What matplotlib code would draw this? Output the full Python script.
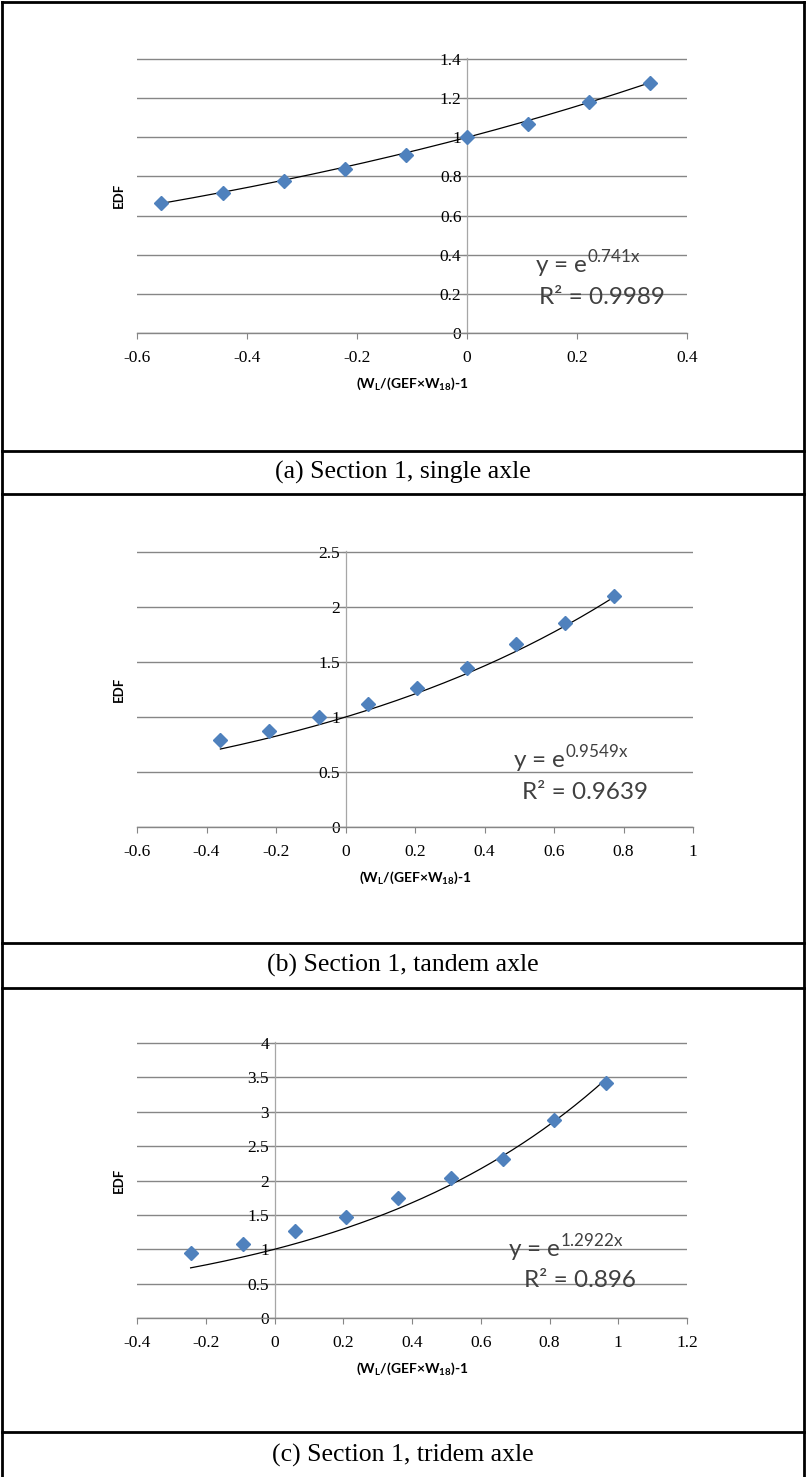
import matplotlib
matplotlib.use('Agg')
import matplotlib.pyplot as plt
import numpy as np
from matplotlib.lines import Line2D

plt.rcParams['mathtext.fontset'] = 'custom'
plt.rcParams['mathtext.rm'] = 'Lato'
plt.rcParams['mathtext.bf'] = 'Lato:bold'

#(a) single axle
x_single = [-0.556, -0.444, -0.333, -0.222, -0.111, 0.0, 0.111, 0.222, 0.333]
y_single = [0.665, 0.718, 0.777, 0.838, 0.908, 1.0, 1.066, 1.18, 1.278]
k_single, r2_single = 0.741, '0.9989'
xt_single = [-0.6, -0.4, -0.2, 0, 0.2, 0.4]
yt_single = [0, 0.2, 0.4, 0.6, 0.8, 1, 1.2, 1.4]

#(b) tandem axle
x_tandem = [-0.36, -0.219, -0.076, 0.065, 0.207, 0.351, 0.492, 0.633, 0.773]
y_tandem = [0.792, 0.877, 0.998, 1.118, 1.264, 1.442, 1.66, 1.859, 2.10]
k_tandem, r2_tandem = 0.9549, '0.9639'
xt_tandem = [-0.6, -0.4, -0.2, 0, 0.2, 0.4, 0.6, 0.8, 1]
yt_tandem = [0, 0.5, 1, 1.5, 2, 2.5]

#(c) tridem axle
x_tridem = [-0.244, -0.091, 0.06, 0.208, 0.36, 0.512, 0.664, 0.812, 0.965]
y_tridem = [0.949, 1.084, 1.267, 1.465, 1.749, 2.034, 2.318, 2.882, 3.417]
k_tridem, r2_tridem = 1.2922, '0.896'
xt_tridem = [-0.4, -0.2, 0, 0.2, 0.4, 0.6, 0.8, 1, 1.2]
yt_tridem = [0, 0.5, 1, 1.5, 2, 2.5, 3, 3.5, 4]

captions = ['(a) Section 1, single axle', '(b) Section 1, tandem axle',
            '(c) Section 1, tridem axle']

W, H = 806, 1477
fig = plt.figure(figsize=(W / 100, H / 100), dpi=100)

def px_axes(x0, x1, y_top, y_bot):
    return fig.add_axes([x0 / W, 1 - y_bot / H, (x1 - x0) / W, (y_bot - y_top) / H])

def draw_panel(ax, xs, ys, k, r2, xt, yt, eq_pos):
    ax.set_xlim(xt[0], xt[-1])
    ax.set_ylim(0, yt[-1] * 1.004)
    ax.set_xticks(xt)
    ax.set_xticklabels(['%g' % v for v in xt])
    ax.set_yticks(yt)
    ax.set_yticklabels(['%g' % v for v in yt])
    for s in ['top', 'right']:
        ax.spines[s].set_visible(False)
    ax.spines['left'].set_position(('data', 0))
    ax.spines['left'].set_color('#a6a6a6')
    ax.spines['left'].set_linewidth(0.9)
    ax.spines['bottom'].set_color('#868686')
    ax.spines['bottom'].set_linewidth(1.0)
    ax.yaxis.grid(True, color='#868686', lw=1.0)
    ax.set_axisbelow(True)
    ax.tick_params(axis='x', direction='out', length=4, color='#868686', pad=8)
    ax.tick_params(axis='y', length=3, color='#868686', pad=1)
    for lab in ax.get_xticklabels() + ax.get_yticklabels():
        lab.set_fontfamily('Liberation Serif')
        lab.set_fontsize(12.5)
    # trendline y = e^(kx)
    xf = np.linspace(min(xs), max(xs), 200)
    ax.plot(xf, np.exp(k * xf), color='black', lw=0.9, zorder=3)
    ax.plot(xs, ys, linestyle='none', marker='D', markersize=7.5,
            color='#4f81bd', zorder=4, clip_on=False)
    ax.set_ylabel('EDF', family='Lato', fontweight='bold', fontsize=9.5)
    ax.yaxis.set_label_coords(-0.022, 0.5)
    ax.set_xlabel(r'(W$_\mathregular{L}$/(GEF×W$_\mathregular{18}$)-1',
                  family='Lato', fontweight='bold', fontsize=10, labelpad=7)
    ex, ey = eq_pos
    ax.text(ex, ey, r'y = e$^{\mathregular{%s x}}$' % k, transform=ax.transAxes,
            ha='center', va='center', family='Lato', fontsize=17.5, color='#404040')
    ax.text(ex + 0.025, ey - 0.12, 'R² = ' + r2, transform=ax.transAxes,
            ha='center', va='center', family='Lato', fontsize=17.5, color='#404040')

ax1 = px_axes(137, 687, 58, 333)
draw_panel(ax1, x_single, y_single, k_single, r2_single, xt_single, yt_single, (0.82, 0.25))
ax2 = px_axes(137, 693, 551, 827)
draw_panel(ax2, x_tandem, y_tandem, k_tandem, r2_tandem, xt_tandem, yt_tandem, (0.78, 0.245))
ax3 = px_axes(137, 687, 1042, 1318)
draw_panel(ax3, x_tridem, y_tridem, k_tridem, r2_tridem, xt_tridem, yt_tridem, (0.78, 0.255))

# table borders
def hline(y):
    fig.add_artist(Line2D([2 / W, 804 / W], [1 - y / H, 1 - y / H], color='black', lw=2))

def vline(x):
    fig.add_artist(Line2D([x / W, x / W], [0, 1 - 2 / H], color='black', lw=2))

for y in [2, 451, 494, 943, 988, 1432]:
    hline(y)
for x in [2, 804]:
    vline(x)

for cap, yc in zip(captions, [472.5, 965.5, 1455]):
    fig.text(0.5, 1 - yc / H, cap, ha='center', va='center',
             family='Liberation Serif', fontsize=18.5)

fig.savefig('out.png', dpi=100)
